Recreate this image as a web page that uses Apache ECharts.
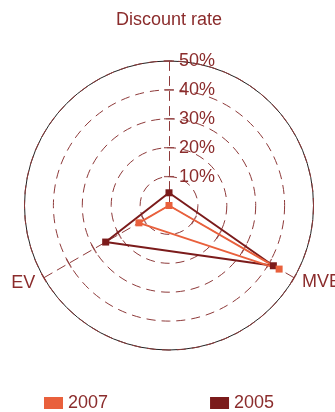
<!DOCTYPE html>
<html>
<head>
<meta charset="utf-8">
<script src="https://cdn.jsdelivr.net/npm/echarts@6/dist/echarts.min.js"></script>
<style>
  html, body { margin: 0; padding: 0; background: #ffffff; }
  #chart { width: 335px; height: 412px; }
</style>
</head>
<body>
<div id="chart"></div>
<script>
// Radar axes (order: top, lower-left, lower-right)
const indicatorNames = ['Discount rate', 'EV', 'MVE'];
const axisMax = 50;
const axisStep = 10;
const axisSplits = axisMax / axisStep;
const tickValues = [10, 20, 30, 40, 50];

// Series values, in percent, per indicator
const seriesNames = ['2007', '2005'];
const values2007 = [0, 12, 44];
const values2005 = [4.4, 25.3, 41.7];

const TEXT = '#8b2c2c';
const GRID = '#8e3a3a';
const C2007 = '#e9603c';
const C2005 = '#7b1b1b';
const FONT = '"Liberation Sans", Arial, Helvetica, sans-serif';

const center = [169, 205.5];
const radius = 144.5;

const nameGaps = [32, 10, 9];

const mainIndicators = indicatorNames.map((n, i) => {
  const ind = { name: n, min: 0, max: axisMax, nameGap: nameGaps[i] };
  if (i === 0) {
    ind.axisLabel = {
      show: true,
      color: TEXT,
      fontSize: 18,
      fontFamily: FONT,
      margin: -10,
      align: 'left',
      padding: [0, 0, 5, 0],
      formatter: v => (v === 0 ? '' : v + '%')
    };
  }
  return ind;
});

// Short cross strokes on every spoke at each tick value (polar: [radius, angle])
const spokeAngles = indicatorNames.map((_, i) => i * 360 / indicatorNames.length);
const tickSeries = spokeAngles.map(a => ({
  type: 'scatter',
  coordinateSystem: 'polar',
  polarIndex: 0,
  silent: true,
  z: 1,
  symbol: 'rect',
  symbolSize: [10, 1.3],
  symbolRotate: a,
  itemStyle: { color: GRID },
  data: tickValues.map(v => [v, a])
}));

const chart = echarts.init(document.getElementById('chart'), null, { renderer: 'canvas' });

chart.setOption({
  animation: false,
  backgroundColor: '#ffffff',
  legend: {
    data: seriesNames,
    left: 44,
    top: 394,
    padding: 0,
    icon: 'rect',
    itemWidth: 19,
    itemHeight: 12,
    itemGap: 102,
    textStyle: { color: TEXT, fontSize: 18, fontFamily: FONT }
  },
  polar: [{ center: center, radius: [0, radius] }],
  angleAxis: [{ polarIndex: 0, type: 'value', min: 0, max: 360, startAngle: 90, clockwise: false, axisLine: { show: false }, axisTick: { show: false }, axisLabel: { show: false }, splitLine: { show: false } }],
  radiusAxis: [{ polarIndex: 0, type: 'value', min: 0, max: axisMax, axisLine: { show: false }, axisTick: { show: false }, axisLabel: { show: false }, splitLine: { show: false } }],
  radar: [
    {
      // dashed rings, spokes and value labels
      z: 2,
      center: center,
      radius: radius,
      shape: 'circle',
      startAngle: 90,
      splitNumber: axisSplits,
      indicator: mainIndicators,
      axisName: { color: TEXT, fontSize: 18, fontFamily: FONT },
      axisLine: { show: true, lineStyle: { color: GRID, width: 1, type: [9, 6] } },
      axisTick: { show: false },
      axisLabel: { show: false },
      splitLine: { lineStyle: { color: GRID, width: 1, type: [9, 6] } },
      splitArea: { show: false }
    },
    {
      // solid outer ring
      z: 1,
      center: center,
      radius: radius,
      shape: 'circle',
      startAngle: 90,
      splitNumber: axisSplits,
      indicator: indicatorNames.map(n => ({ name: n, min: 0, max: axisMax })),
      axisName: { show: false },
      axisLine: { show: false },
      axisTick: { show: false },
      axisLabel: { show: false },
      splitLine: {
        lineStyle: {
          color: ['rgba(0,0,0,0)', 'rgba(0,0,0,0)', 'rgba(0,0,0,0)', 'rgba(0,0,0,0)', 'rgba(0,0,0,0)', '#222222'],
          width: 1
        }
      },
      splitArea: { show: false }
    }
  ],
  series: tickSeries.concat([
    {
      type: 'radar',
      radarIndex: 0,
      symbol: 'rect',
      symbolSize: 7,
      lineStyle: { width: 2 },
      z: 3,
      data: [
        { name: '2005', value: values2005, itemStyle: { color: C2005 }, lineStyle: { color: C2005, width: 2 } },
        { name: '2007', value: values2007, itemStyle: { color: C2007 }, lineStyle: { color: C2007, width: 2 } }
      ]
    }
  ])
});
</script>
</body>
</html>
